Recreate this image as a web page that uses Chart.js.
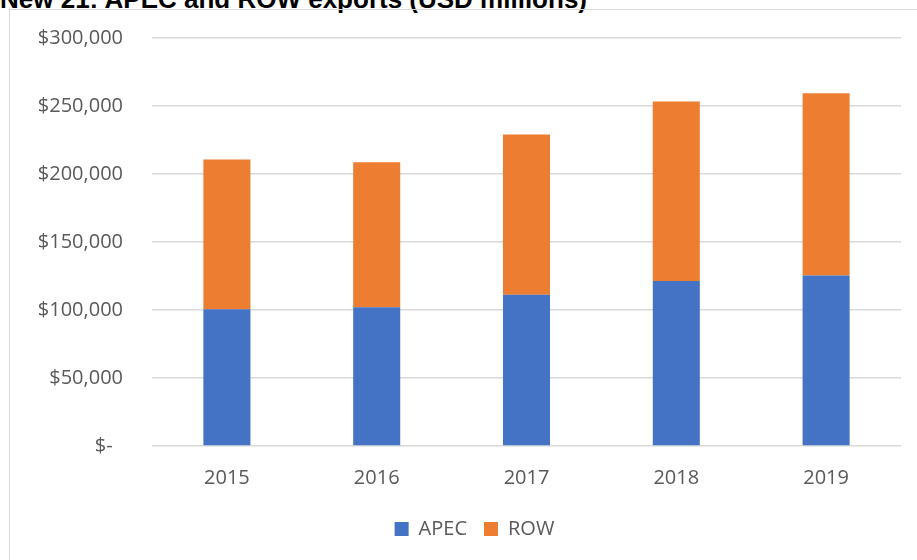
<!DOCTYPE html>
<html>
<head>
<meta charset="utf-8">
<script src="https://cdn.jsdelivr.net/npm/chart.js@4.4.1/dist/chart.umd.min.js"></script>
<style>
  html, body { margin: 0; padding: 0; background: #fff; overflow: hidden; }
  body { width: 917px; height: 560px; position: relative; }
  #title {
    position: absolute; left: 0; top: -14px; margin: 0;
    font: bold 26px/26px "Liberation Sans", Arial, sans-serif; color: #000;
    white-space: nowrap;
  }
  #frame {
    position: absolute; left: 9px; top: 9px; width: 920px; height: 560px;
    border-left: 1.5px solid #d9d9d9; border-top: 1.5px solid #d9d9d9;
  }
  #wrap { position: absolute; left: 10px; top: 10px; width: 907px; height: 550px; }
</style>
</head>
<body>
<div id="title">New 21: APEC and ROW exports (USD millions)</div>
<div id="frame"></div>
<div id="wrap"><canvas id="chart"></canvas></div>
<script>
// years on the x axis
const years = ['2015', '2016', '2017', '2018', '2019']
// exports, USD millions
const apec = [100500, 102000, 111300, 121400, 125300]
const row = [110100, 106600, 117800, 132000, 134100]

const font = { family: '"Open Sans", "Liberation Sans", sans-serif', size: 20 }

const money = (v) => {
  if (v === 0) return '$-  '
  return '$' + v.toLocaleString('en-US')
}

// legend sits a little right of the canvas centre in the original
const nudgeLegend = {
  id: 'nudgeLegend',
  afterLayout(chart) {
    chart.legend.left += 9
    chart.legend.right += 9
  }
}

const ctx = document.getElementById('chart')
new Chart(ctx, {
  type: 'bar',
  data: {
    labels: years,
    datasets: [
      { label: 'APEC', data: apec, backgroundColor: '#4472C4' },
      { label: 'ROW', data: row, backgroundColor: '#ED7D31' }
    ]
  },
  options: {
    responsive: true,
    maintainAspectRatio: false,
    animation: false,
    datasets: {
      bar: { barPercentage: 1, categoryPercentage: 0.314 }
    },
    layout: { padding: { top: 28, right: 16, left: 20, bottom: 11 } },
    plugins: {
      legend: {
        position: 'bottom',
        labels: {
          color: '#595959',
          font: font,
          boxWidth: 14,
          boxHeight: 14,
          padding: 17
        }
      },
      tooltip: { enabled: false }
    },
    scales: {
      x: {
        stacked: true,
        grid: { display: false },
        border: { display: false },
        ticks: { color: '#595959', font: font, padding: 12 }
      },
      y: {
        stacked: true,
        min: 0,
        max: 300000,
        afterFit: (scale) => { scale.width = 122 },
        // long transparent ticks give the gap between labels and grid
        grid: { color: '#d9d9d9', lineWidth: 1.5, tickLength: 29, tickColor: 'rgba(0,0,0,0)' },
        border: { display: false },
        ticks: {
          stepSize: 50000,
          color: '#595959',
          font: font,
          padding: 0,
          callback: money
        }
      }
    }
  },
  plugins: [nudgeLegend]
})
</script>
</body>
</html>
